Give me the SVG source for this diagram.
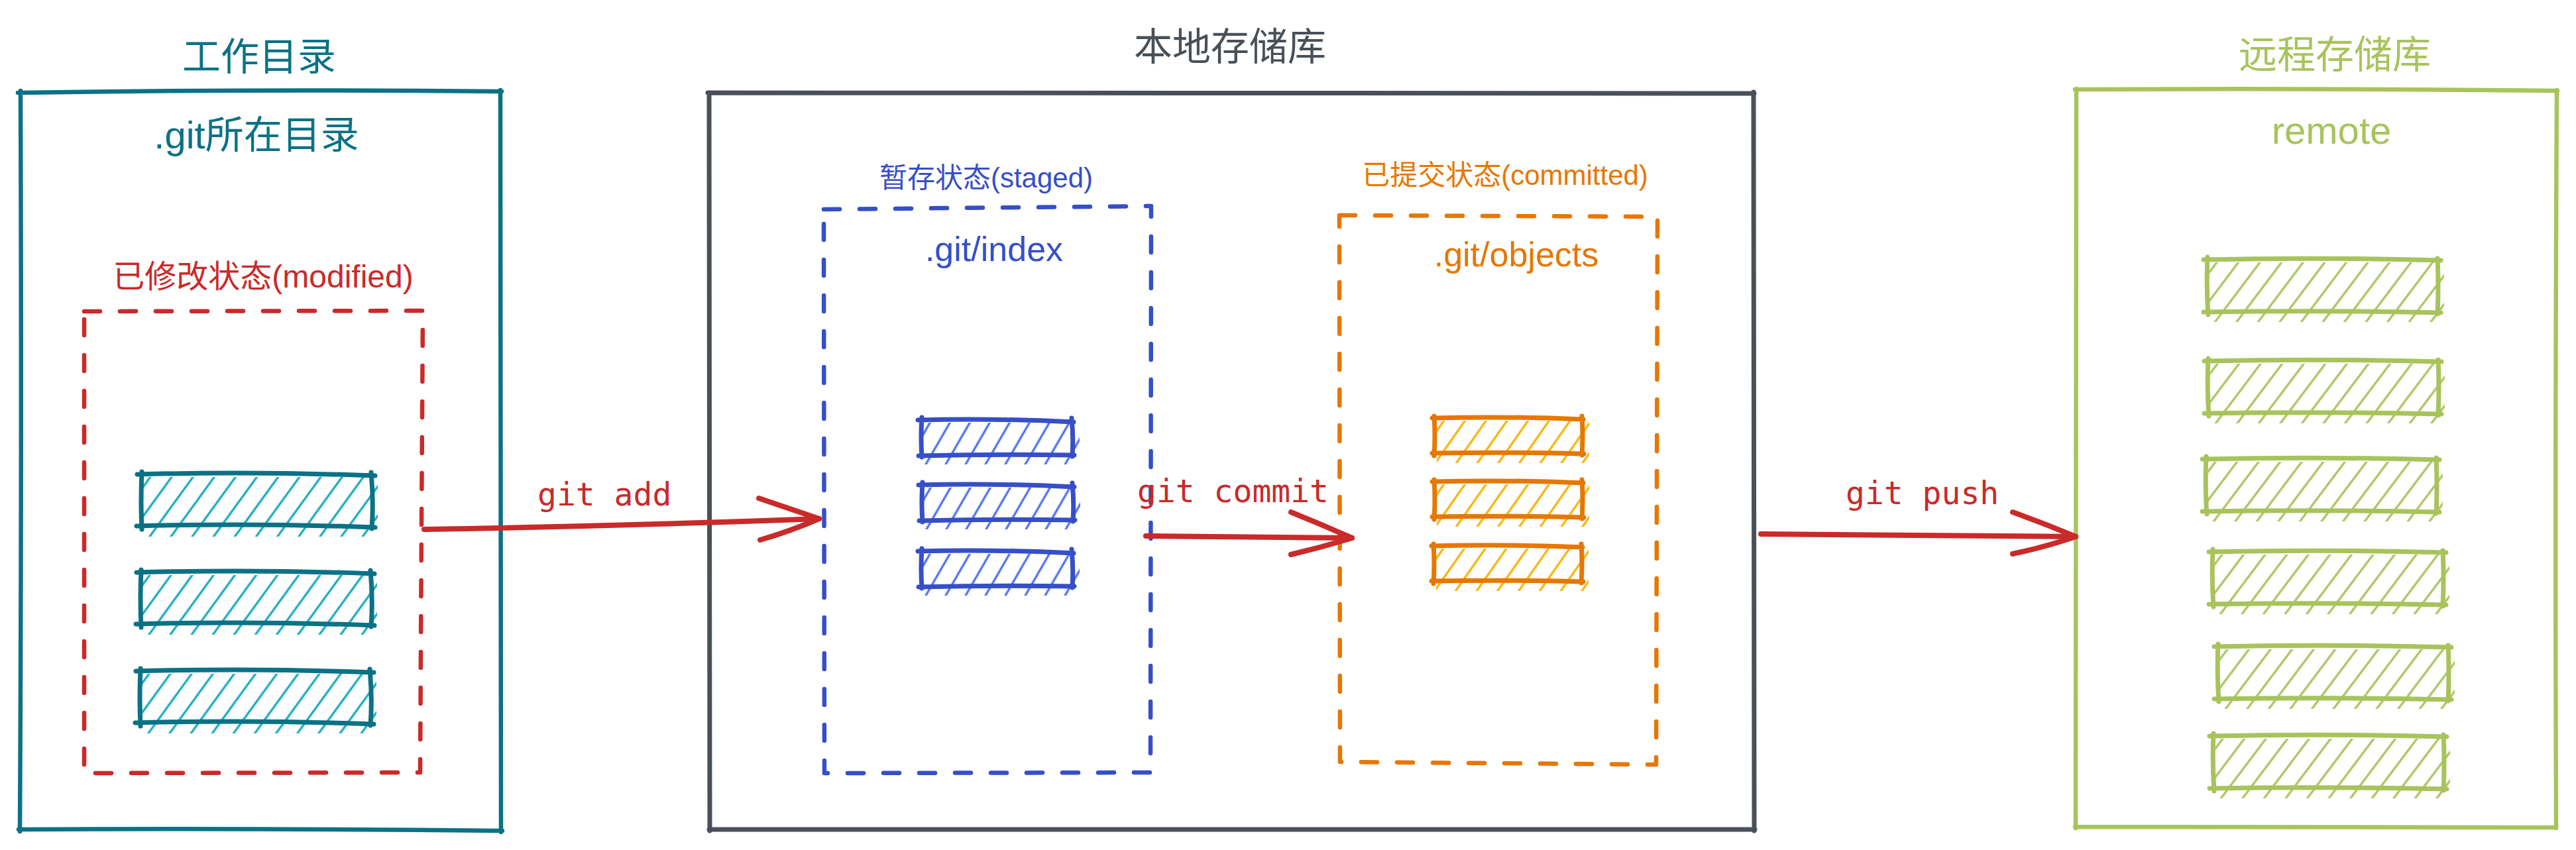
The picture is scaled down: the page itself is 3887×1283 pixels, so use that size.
<svg xmlns="http://www.w3.org/2000/svg" xmlns:xlink="http://www.w3.org/1999/xlink" width="3887" height="1283" viewBox="0 0 3887 1283">
<style>
.t{font-family:"Liberation Sans","Noto Sans CJK SC",sans-serif;text-anchor:middle}
.m{font-family:"DejaVu Sans Mono","Liberation Mono",monospace;font-size:48px;fill:#c92a2a}
.ln{fill:none;stroke-linecap:round;stroke-linejoin:round}
.teal{stroke:#0b7285}
.red{stroke:#c92a2a}
.blue{stroke:#364fc7}
.orange{stroke:#e67700}
.green{stroke:#a9c35c}
.gray{stroke:#495057}
.dash{stroke-width:6.5;stroke-dasharray:24 30}
.bo{stroke-width:7}
.arr{stroke:#c92a2a;stroke-width:8}
</style>
<defs>
<pattern id="hTeal" patternUnits="userSpaceOnUse" width="26" height="26" patternTransform="rotate(36)"><line x1="13" y1="-2" x2="13" y2="28" stroke="#15aabf" stroke-width="3.2"/></pattern>
<pattern id="hBlue" patternUnits="userSpaceOnUse" width="26" height="26" patternTransform="rotate(30)"><line x1="13" y1="-2" x2="13" y2="28" stroke="#4c6ef5" stroke-width="3.2"/></pattern>
<pattern id="hOrange" patternUnits="userSpaceOnUse" width="26" height="26" patternTransform="rotate(35)"><line x1="13" y1="-2" x2="13" y2="28" stroke="#fab005" stroke-width="3.2"/></pattern>
<pattern id="hGreen" patternUnits="userSpaceOnUse" width="26" height="26" patternTransform="rotate(37)"><line x1="13" y1="-2" x2="13" y2="28" stroke="#a9c35c" stroke-width="3.2"/></pattern>
<g id="barTeal">
<rect x="3" y="3" width="354" height="90" fill="url(#hTeal)"/>
<path class="ln teal bo" d="M -6 -1 Q 170 -6 353 1 M 347 -4 Q 351 40 348 81 M 353 79 Q 170 72 -7 77 M 1 82 Q -1 40 1 -5"/>
</g>
<g id="barBlue">
<rect x="3" y="3" width="236" height="63" fill="url(#hBlue)"/>
<path class="ln blue bo" d="M -5 -1 Q 110 -4 230 2 M 227 -4 Q 230 25 228 54 M 231 52 Q 110 50 -4 53 M 1 55 Q -1 25 1 -5"/>
</g>
<g id="barOrange">
<rect x="3" y="3" width="230" height="64" fill="url(#hOrange)"/>
<path class="ln orange bo" d="M -4 -1 Q 110 -4 224 1 M 222 -4 Q 224 25 222 55 M 225 53 Q 110 50 -4 52 M -1 56 Q 1 25 -1 -4"/>
</g>
<g id="barGreen">
<rect x="3" y="3" width="354" height="90" fill="url(#hGreen)"/>
<path class="ln green bo" d="M -6 -1 Q 170 -5 352 0 M 347 -3 Q 349 40 347 81 M 352 79 Q 170 75 -6 78 M 1 82 Q -2 40 0 -5"/>
</g>
</defs>
<rect width="3887" height="1283" fill="#ffffff"/>

<g id="working-dir">
<path class="ln teal" stroke-width="6.5" d="M 27 140 Q 390 134 757 138 M 755 136 Q 758 700 756 1256 M 758 1254 Q 390 1250 28 1252 M 30 1255 Q 33 700 31 137"/>
<text class="t" x="391" y="106" font-size="58" fill="#0b7285">工作目录</text>
<text class="t" x="387" y="224" font-size="58" fill="#0b7285">.git所在目录</text>
</g>

<g id="modified">
<path class="ln red dash" d="M 127 470 L 638 469 L 636 798 L 634 1166 L 127 1167 Z"/>
<text class="t" x="397" y="434" font-size="48" fill="#c92a2a">已修改状态(modified)</text>
<use href="#barTeal" x="213" y="717"/>
<use href="#barTeal" x="212" y="865"/>
<use href="#barTeal" x="211" y="1014"/>
</g>

<g id="local-repo">
<path class="ln gray" stroke-width="7" d="M 1068 140 Q 1860 137 2647 141 M 2646 139 L 2647 1254 M 2648 1252 L 1070 1252 M 1071 1254 L 1070 140"/>
<text class="t" x="1856" y="91" font-size="58" fill="#495057">本地存储库</text>
</g>

<g id="staged">
<path class="ln blue dash" d="M 1243 316 L 1737 311 L 1736 1166 L 1244 1167 Z"/>
<text class="t" x="1488" y="283" font-size="42" fill="#364fc7">暂存状态(staged)</text>
<text class="t" x="1500" y="394" font-size="52" fill="#364fc7">.git/index</text>
<use href="#barBlue" x="1390" y="635"/>
<use href="#barBlue" x="1391" y="733"/>
<use href="#barBlue" x="1390" y="833"/>
</g>

<g id="committed">
<path class="ln orange dash" d="M 2021 325 L 2501 327 L 2499 1154 L 2022 1150 Z"/>
<text class="t" x="2271" y="279" font-size="42" fill="#e67700">已提交状态(committed)</text>
<text class="t" x="2288" y="402" font-size="52" fill="#e67700">.git/objects</text>
<use href="#barOrange" x="2165" y="632"/>
<use href="#barOrange" x="2165" y="728"/>
<use href="#barOrange" x="2164" y="825"/>
</g>

<g id="remote-repo">
<path class="ln green" stroke-width="6.5" d="M 3131 135 Q 3500 133 3859 137 M 3858 136 Q 3855 700 3857 1250 M 3857 1249 Q 3500 1247 3131 1248 M 3132 1250 Q 3130 700 3133 134"/>
<text class="t" x="3523" y="103" font-size="58" fill="#a9c35c">远程存储库</text>
<text class="t" x="3518" y="217" font-size="58" fill="#a9c35c">remote</text>
<use href="#barGreen" x="3331" y="393"/>
<use href="#barGreen" x="3332" y="546"/>
<use href="#barGreen" x="3329" y="694"/>
<use href="#barGreen" x="3339" y="834"/>
<use href="#barGreen" x="3347" y="977"/>
<use href="#barGreen" x="3340" y="1112"/>
</g>

<g id="connectors">
<g id="edge-add">
<path class="ln arr" d="M 640 799 Q 940 794 1236 783"/>
<path class="ln arr" d="M 1145 752 Q 1192 768 1236 783 M 1147 815 Q 1192 802 1236 783"/>
<text class="m" x="811" y="763">git add</text>
</g>
<g id="edge-commit">
<path class="ln arr" d="M 1729 809 L 2040 812"/>
<path class="ln arr" d="M 1948 773 Q 1995 792 2040 812 M 1948 837 Q 1995 826 2040 812"/>
<text class="m" x="1716" y="758">git commit</text>
</g>
<g id="edge-push">
<path class="ln arr" d="M 2657 806 L 3132 810"/>
<path class="ln arr" d="M 3037 773 Q 3085 790 3132 810 M 3037 836 Q 3085 826 3132 810"/>
<text class="m" x="2785" y="761">git push</text>
</g>
</g>
</svg>
